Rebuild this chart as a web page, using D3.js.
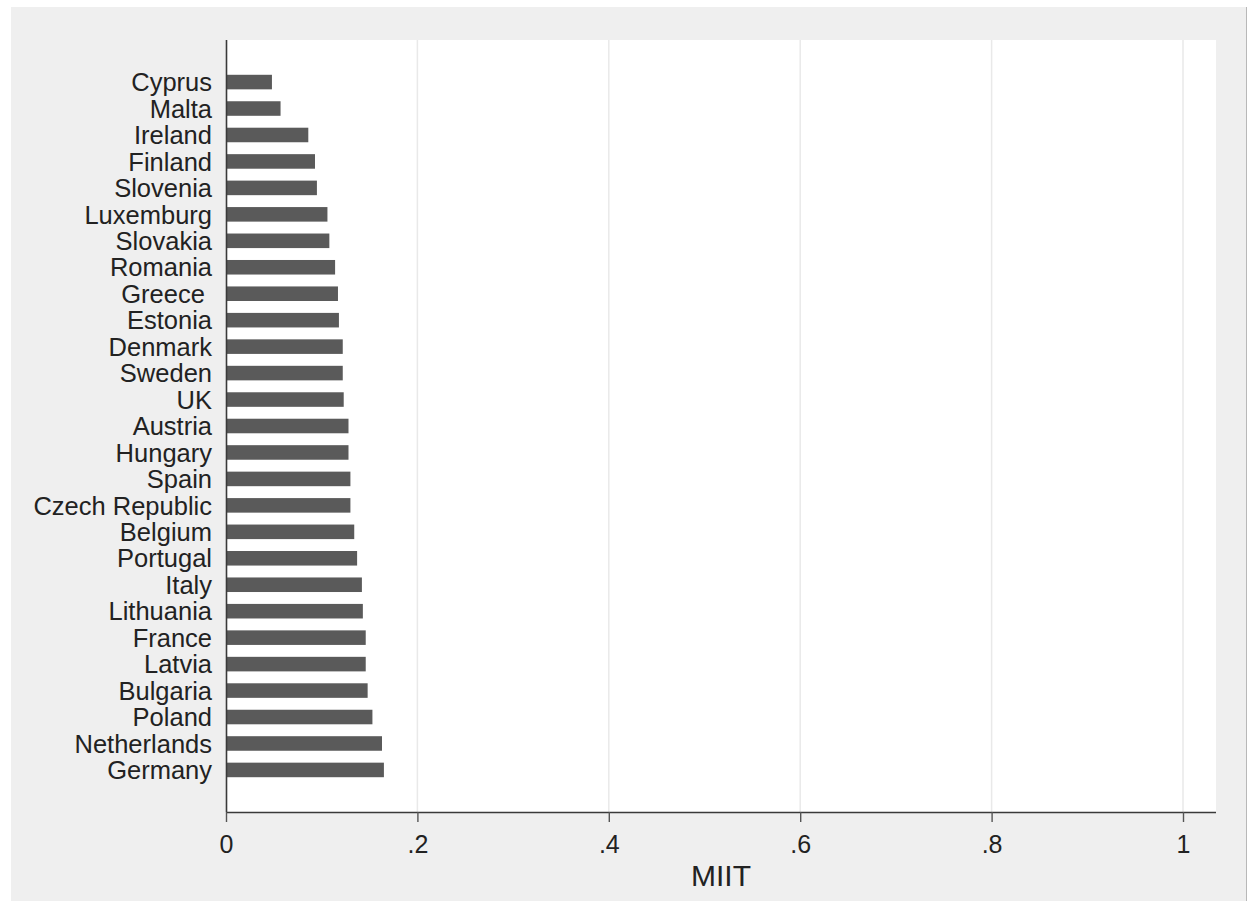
<!DOCTYPE html>
<html>
<head>
<meta charset="utf-8">
<script src="https://cdn.jsdelivr.net/npm/d3@7"></script>
<style>
  html, body { margin: 0; padding: 0; background: #ffffff; }
  svg { display: block; }
  text { font-family: "Liberation Sans", Arial, Helvetica, sans-serif; fill: #222; }
</style>
</head>
<body>
<svg id="chart" width="1248" height="902"></svg>
<script>
// ---- data ----
const countries = ["Cyprus", "Malta", "Ireland", "Finland", "Slovenia", "Luxemburg", "Slovakia",
  "Romania", "Greece ", "Estonia", "Denmark", "Sweden", "UK", "Austria", "Hungary", "Spain",
  "Czech Republic", "Belgium", "Portugal", "Italy", "Lithuania", "France", "Latvia", "Bulgaria",
  "Poland", "Netherlands", "Germany"];
const miit = [0.048, 0.057, 0.086, 0.093, 0.095, 0.106, 0.108,
  0.114, 0.117, 0.118, 0.122, 0.122, 0.123, 0.128, 0.128, 0.130,
  0.130, 0.134, 0.137, 0.142, 0.143, 0.146, 0.146, 0.148,
  0.153, 0.163, 0.165];
const xTicks = [0, 0.2, 0.4, 0.6, 0.8, 1];
const xTickLabels = ["0", ".2", ".4", ".6", ".8", "1"];
const xTitle = "MIIT";

// ---- layout ----
const svg = d3.select("#chart");
const plot = { left: 226, right: 1216, top: 40, bottom: 812 };

svg.append("rect").attr("x", 11).attr("y", 7).attr("width", 1235).attr("height", 894)
  .attr("fill", "#efefef");
svg.append("line").attr("x1", 1246.5).attr("x2", 1246.5).attr("y1", 7).attr("y2", 901)
  .attr("stroke", "#b8b8b8").attr("stroke-width", 1);
svg.append("rect").attr("x", plot.left).attr("y", plot.top)
  .attr("width", plot.right - plot.left).attr("height", plot.bottom - plot.top)
  .attr("fill", "#ffffff");

const x = d3.scaleLinear().domain([0, 1]).range([plot.left, 1183]);
const y = d3.scaleBand().domain(countries).range([plot.top, plot.bottom])
  .paddingInner(0.45).paddingOuter(1.315);

// gridlines
svg.append("g").selectAll("line").data(xTicks.filter(d => d > 0)).join("line")
  .attr("x1", d => x(d)).attr("x2", d => x(d))
  .attr("y1", plot.top).attr("y2", plot.bottom)
  .attr("stroke", "#e9e9e9").attr("stroke-width", 1.5);

// bars
svg.append("g").selectAll("rect").data(countries).join("rect")
  .attr("x", x(0))
  .attr("y", d => y(d))
  .attr("width", (d, i) => x(miit[i]) - x(0))
  .attr("height", y.bandwidth())
  .attr("fill", "#5a5a5a");

// x axis
const xAxis = d3.axisBottom(x).tickValues(xTicks)
  .tickFormat((d, i) => xTickLabels[i]).tickSize(10).tickPadding(13).tickSizeOuter(0);
const gx = svg.append("g").attr("transform", `translate(0,${plot.bottom})`).call(xAxis);
gx.select(".domain").attr("d", `M${plot.left},0.5H${plot.right}`)
  .attr("stroke", "#3a3a3a").attr("stroke-width", 1.6);
gx.selectAll(".tick line").attr("stroke", "#555").attr("stroke-width", 1.4);
gx.selectAll(".tick text").attr("font-size", 25).attr("fill", "#222")
  .attr("font-family", "Liberation Sans, Arial, sans-serif");

// y axis
const yAxis = d3.axisLeft(y).tickSize(0).tickPadding(14).tickSizeOuter(0);
const gy = svg.append("g").attr("transform", `translate(${plot.left},0)`).call(yAxis);
gy.select(".domain").attr("d", `M0.5,${plot.top}V${plot.bottom}`)
  .attr("stroke", "#3a3a3a").attr("stroke-width", 1.6);
gy.selectAll(".tick text").attr("font-size", 25.5).attr("fill", "#222")
  .attr("font-family", "Liberation Sans, Arial, sans-serif")
  .attr("dy", "0.36em")
  .style("white-space", "pre");

// axis title
svg.append("text").attr("x", (plot.left + plot.right) / 2).attr("y", 886)
  .attr("text-anchor", "middle").attr("font-size", 30).attr("fill", "#222")
  .text(xTitle);
</script>
</body>
</html>
